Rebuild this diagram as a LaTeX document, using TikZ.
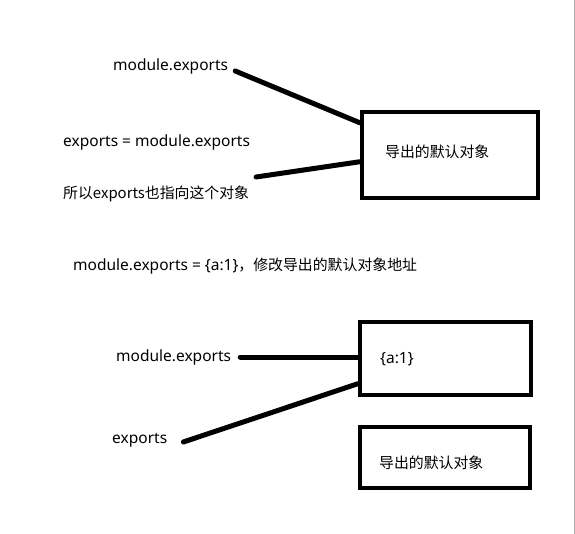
\documentclass[tikz,border=0pt]{standalone}
\usepackage{fontspec}
\setmainfont{Noto Sans}
\newfontfamily\cjk[Scale=0.96]{Noto Sans CJK SC}
\begin{document}
\begin{tikzpicture}[x=1pt,y=-1pt]

  \tikzstyle{obj}=[draw,line width=4.5pt,inner sep=0pt]
  \tikzstyle{lbl}=[anchor=west,inner sep=0pt,font=\fontsize{15.5}{18}\selectfont]
  \tikzstyle{ref}=[line width=5pt,line cap=round]

  \useasboundingbox (0,0) rectangle (575,534);
  \draw[gray!60] (574,0) -- (574,534);

  % before: both names point to the default object
  \node[obj,minimum width=176pt,minimum height=86pt] (obj-1) at (450,155) {};
  \node[lbl] (t-1) at (385,152) {\cjk{导出的默认对象}};
  \node[lbl] (me-1) at (113,66) {module.exports};
  \node[lbl] (eq) at (63,142) {exports = module.exports};
  \node[lbl] (so) at (63,194) {\cjk{所以}exports\cjk{也指向这个对象}};

  \node[lbl] (reset) at (73,266) {module.exports = \{a:1\}\cjk{，修改导出的默认对象地址}};

  % after: module.exports gets a new object
  \node[obj,minimum width=171pt,minimum height=73pt] (obj-2) at (445.5,358.5) {};
  \node[lbl] (a-1) at (380,359) {\{a:1\}};
  \node[lbl] (me-2) at (116,357) {module.exports};
  \node[lbl] (ex) at (112,440) {exports};
  \node[obj,minimum width=170pt,minimum height=61pt] (obj-3) at (445,457.5) {};
  \node[lbl] (t-3) at (379,463) {\cjk{导出的默认对象}};

  \coordinate (me-1-r) at ([xshift=7pt,yshift=-5pt]me-1.east);
  \coordinate (obj-1-a) at ([yshift=-13pt]obj-1.north west);
  \coordinate (eq-r) at ([xshift=6pt,yshift=-35pt]eq.east);
  \coordinate (obj-1-b) at ([yshift=-52pt]obj-1.north west);
  \coordinate (me-2-r) at ([xshift=9pt]me-2.east);
  \coordinate (obj-2-a) at (me-2-r -| obj-2.west);
  \coordinate (ex-r) at ([xshift=16pt,yshift=-2pt]ex.east);
  \coordinate (obj-2-b) at ([yshift=-64pt]obj-2.north west);

  \foreach \from/\to in {me-1-r/obj-1-a, eq-r/obj-1-b,
                         me-2-r/obj-2-a, ex-r/obj-2-b}
    \draw[ref] (\from) -- (\to);
\end{tikzpicture}
\end{document}
